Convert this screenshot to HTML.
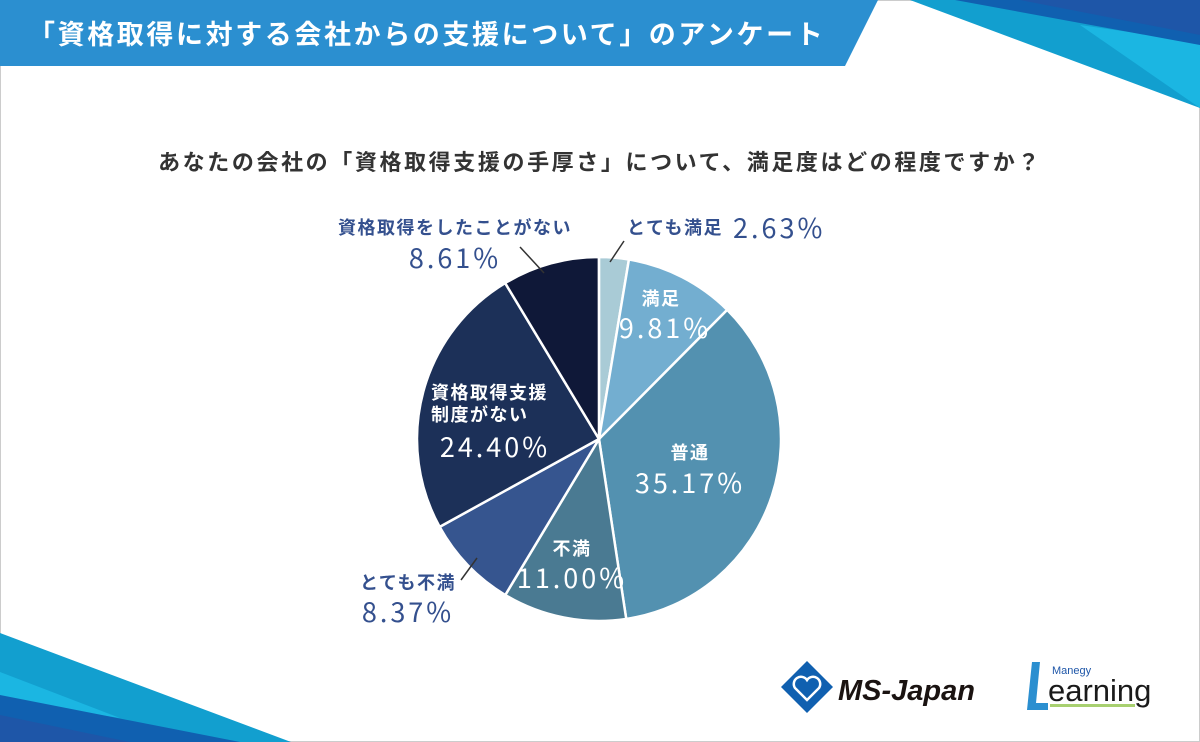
<!DOCTYPE html>
<html><head><meta charset="utf-8"><style>
body{margin:0;width:1200px;height:742px;overflow:hidden;background:#fff;font-family:"Liberation Sans","Noto Sans CJK JP",sans-serif;}
svg{position:absolute;left:0;top:0}
</style></head><body>
<svg width="1200" height="742" viewBox="0 0 1200 742" xmlns="http://www.w3.org/2000/svg" font-family="'Liberation Sans','Noto Sans CJK JP',sans-serif">
<rect x="0.5" y="0.5" width="1199" height="741" fill="#fff" stroke="#ccc"/>
<polygon points="0,0 878,0 845,66 0,66" fill="#2b8fd0"/>
<text x="28" y="44" font-size="27" font-weight="bold" fill="#fff" letter-spacing="2.6" font-family="'Noto Sans CJK JP',sans-serif">「資格取得に対する会社からの支援について」のアンケート</text>
<polygon points="910,0 1200,0 1200,108" fill="#129fcf"/>
<polygon points="1080,25 1200,42 1200,108" fill="#1bb6e2"/>
<polygon points="955,0 1200,0 1200,45" fill="#1060b0"/>
<polygon points="1020,0 1200,0 1200,35" fill="#1e56a8"/>
<polygon points="0,633 291,742 0,742" fill="#129fcf"/>
<polygon points="0,672 120,718 0,700" fill="#1bb6e2"/>
<polygon points="0,695 240,742 0,742" fill="#1060b0"/>
<polygon points="0,715 130,742 0,742" fill="#1e56a8"/>
<text x="600" y="170" text-anchor="middle" font-size="22" font-weight="bold" letter-spacing="2.6" fill="#333" font-family="'Noto Sans CJK JP',sans-serif">あなたの会社の「資格取得支援の手厚さ」について、満足度はどの程度ですか？</text>
<g id="pie" stroke="#fff" stroke-width="2.5"></g>
<g stroke="#333" stroke-width="1.5">
<line x1="624" y1="241" x2="610" y2="262"/>
<line x1="520" y1="247" x2="544" y2="273"/>
<line x1="477" y1="558" x2="461" y2="580"/>
</g>
<g font-family="'Noto Sans CJK JP',sans-serif" font-weight="bold" letter-spacing="1.5">
<text x="455" y="234" text-anchor="middle" font-size="18" fill="#34508e">資格取得をしたことがない</text>
<text x="455" y="268" text-anchor="middle" font-size="27" font-weight="normal" letter-spacing="3" fill="#34508e">8.61%</text>
<text x="627" y="234" font-size="18" fill="#34508e">とても満足</text>
<text x="733" y="238" font-size="27" font-weight="normal" letter-spacing="3" fill="#34508e">2.63%</text>
<text x="661" y="305" text-anchor="middle" font-size="18" fill="#fff">満足</text>
<text x="665" y="338" text-anchor="middle" font-size="27" font-weight="normal" letter-spacing="3" fill="#fff">9.81%</text>
<text x="690" y="459" text-anchor="middle" font-size="18" fill="#fff">普通</text>
<text x="690" y="493" text-anchor="middle" font-size="27" font-weight="normal" letter-spacing="3" fill="#fff">35.17%</text>
<text x="572" y="555" text-anchor="middle" font-size="18" fill="#fff">不満</text>
<text x="572" y="588" text-anchor="middle" font-size="27" font-weight="normal" letter-spacing="3" fill="#fff">11.00%</text>
<text x="456" y="589" text-anchor="end" font-size="18" fill="#34508e">とても不満</text>
<text x="408" y="622" text-anchor="middle" font-size="27" font-weight="normal" letter-spacing="3" fill="#34508e">8.37%</text>
<text x="431" y="399" font-size="18" fill="#fff">資格取得支援</text>
<text x="431" y="421" font-size="18" fill="#fff">制度がない</text>
<text x="495" y="457" text-anchor="middle" font-size="27" font-weight="normal" letter-spacing="3" fill="#fff">24.40%</text>
</g>
<polygon points="807,661 833,687 807,713 781,687" fill="#1060b0"/>
<path d="M807,700 L795,688 A6,6 0 0 1 807,680 A6,6 0 0 1 819,688 Z" fill="none" stroke="#fff" stroke-width="2.5"/>
<text x="838" y="700" font-size="29" font-weight="bold" font-style="italic" fill="#1a1311">MS-Japan</text>
<polygon points="1032,662 1040,662 1036,703 1048,703 1048,710 1027,710" fill="#2b8fd0"/>
<rect x="1050" y="704" width="85" height="3" fill="#a8d070"/>
<text x="1052" y="674" font-size="11" fill="#1e56a8">Manegy</text>
<text x="1048" y="701" font-size="31" fill="#1a1a1a">earning</text>
</svg>
<script>
var cx=599,cy=439,r=182;
var d=[[2.63,"#a9cbd6"],[9.81,"#73aed0"],[35.17,"#5391b0"],[11.00,"#4a7a92"],[8.37,"#36558f"],[24.40,"#1c3058"],[8.61,"#0f1838"]];
var a=0,g=document.getElementById("pie"),s="";
d.forEach(function(e){var a0=a/100*2*Math.PI;a+=e[0];var a1=a/100*2*Math.PI;
var x0=cx+r*Math.sin(a0),y0=cy-r*Math.cos(a0),x1=cx+r*Math.sin(a1),y1=cy-r*Math.cos(a1);
var l=e[0]>50?1:0;
s+='<path d="M'+cx+','+cy+' L'+x0+','+y0+' A'+r+','+r+' 0 '+l+' 1 '+x1+','+y1+' Z" fill="'+e[1]+'"/>';});
g.innerHTML=s;
</script>
</body></html>
